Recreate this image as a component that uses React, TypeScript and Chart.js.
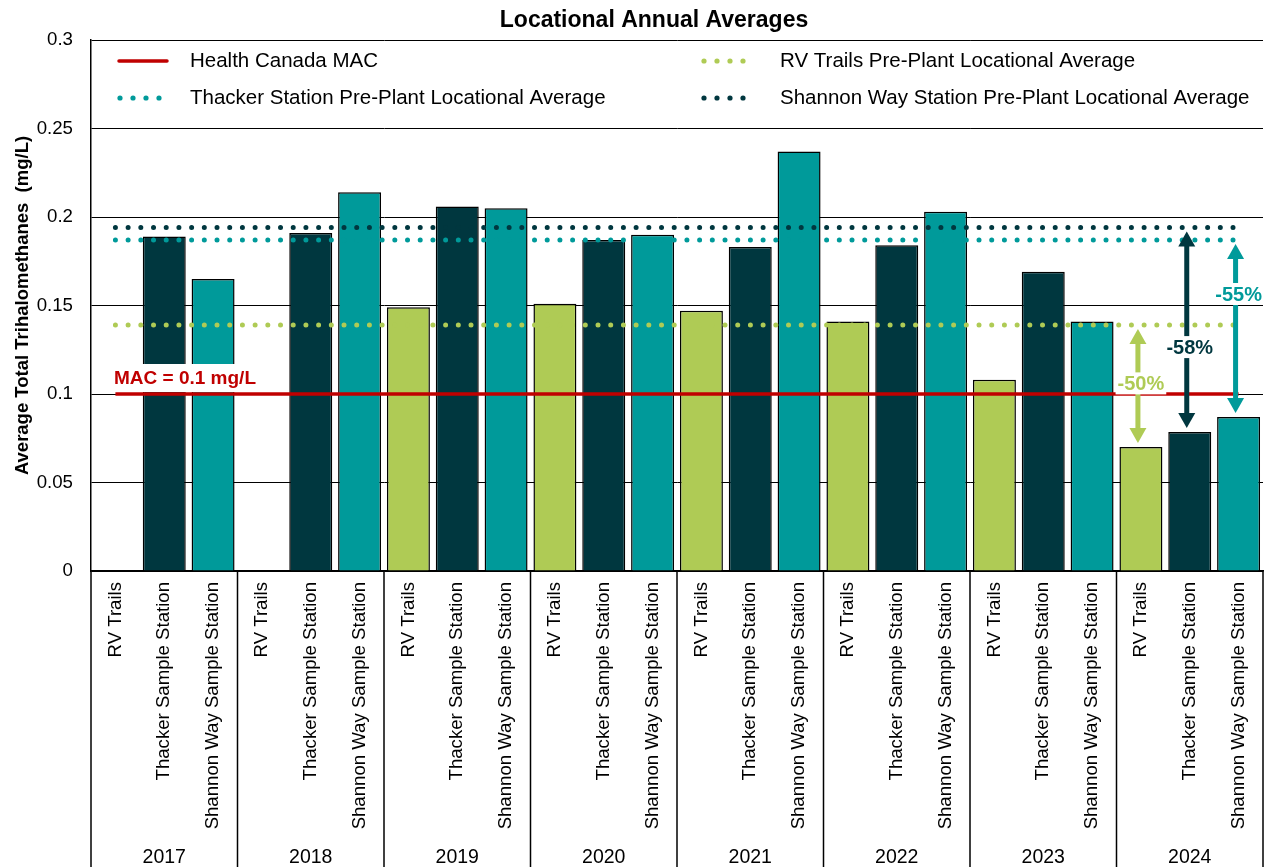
import React, { useEffect, useRef } from 'react';
import { Chart, registerables } from 'chart.js';

Chart.register(...registerables);

// ---------- data ----------
const years = ['2017', '2018', '2019', '2020', '2021', '2022', '2023', '2024'];
const stations = ['RV Trails', 'Thacker Sample Station', 'Shannon Way Sample Station'];
const rvTrails: (number | null)[] = [null, null, 0.149, 0.151, 0.147, 0.141, 0.108, 0.07];
const thacker: (number | null)[] = [0.189, 0.191, 0.206, 0.187, 0.183, 0.184, 0.169, 0.0785];
const shannonWay: (number | null)[] = [0.165, 0.214, 0.205, 0.19, 0.237, 0.203, 0.141, 0.087];
const macLimit = 0.1;
const rvPrePlant = 0.139;
const thackerPrePlant = 0.187;
const shannonPrePlant = 0.194;
const yTickLabels = ['0', '0.05', '0.1', '0.15', '0.2', '0.25', '0.3'];
const reductionLabels = ['-50%', '-58%', '-55%'];
const reductionLabelValues = [0.106, 0.1265, 0.1565];
const legendLabels = [
  'Health Canada MAC',
  'Thacker Station Pre-Plant Locational Average',
  'RV Trails Pre-Plant Locational Average',
  'Shannon Way Station Pre-Plant Locational Average',
];
const titleText = 'Locational Annual Averages';
const yTitleText = 'Average Total Trihalomethanes  (mg/L)';
const macLabelText = 'MAC = 0.1 mg/L';

// ---------- styles ----------
const GREEN = '#AFCB55';
const DARK = '#00373F';
const TEAL = '#009A9A';
const RED = '#C00000';
const FONT = "'Liberation Sans', Arial, sans-serif";
const stationColors = [GREEN, DARK, TEAL];

const categoryLabels = years.flatMap(() => stations);
const barValues = years.flatMap((_, i) => [rvTrails[i], thacker[i], shannonWay[i]]);
const barColors = years.flatMap(() => stationColors);
const flat = (v: number) => categoryLabels.map(() => v);

const arrows = [
  { cat: 21, from: rvPrePlant, to: rvTrails[7] as number, color: GREEN, label: reductionLabels[0], labelAt: reductionLabelValues[0] },
  { cat: 22, from: shannonPrePlant, to: thacker[7] as number, color: DARK, label: reductionLabels[1], labelAt: reductionLabelValues[1] },
  { cat: 23, from: thackerPrePlant, to: shannonWay[7] as number, color: TEAL, label: reductionLabels[2], labelAt: reductionLabelValues[2] },
];

function drawDots(ctx: CanvasRenderingContext2D, x0: number, y: number, color: string) {
  ctx.fillStyle = color;
  for (let k = 0; k < 4; k++) {
    ctx.beginPath();
    ctx.arc(x0 + k * 13, y, 2.6, 0, Math.PI * 2);
    ctx.fill();
  }
}

function drawDoubleArrow(ctx: CanvasRenderingContext2D, x: number, y1: number, y2: number, color: string) {
  const headLen = 15;
  const headHalf = 8.5;
  const shaft = 5;
  ctx.fillStyle = color;
  ctx.fillRect(x - shaft / 2, y1 + headLen - 1, shaft, y2 - y1 - 2 * headLen + 2);
  ctx.beginPath();
  ctx.moveTo(x, y1);
  ctx.lineTo(x - headHalf, y1 + headLen);
  ctx.lineTo(x + headHalf, y1 + headLen);
  ctx.closePath();
  ctx.fill();
  ctx.beginPath();
  ctx.moveTo(x, y2);
  ctx.lineTo(x - headHalf, y2 - headLen);
  ctx.lineTo(x + headHalf, y2 - headLen);
  ctx.closePath();
  ctx.fill();
}

const overlay = {
  id: 'overlay',
  afterDraw(chart: any) {
    const ctx: CanvasRenderingContext2D = chart.ctx;
    const xs = chart.scales.x;
    const ys = chart.scales.y;
    const area = chart.chartArea;
    const H = chart.height;
    ctx.save();

    // MAC label with white box
    ctx.fillStyle = '#fff';
    ctx.fillRect(113, ys.getPixelForValue(macLimit) - 30, 150, 28);
    ctx.fillStyle = RED;
    ctx.font = `bold 19px ${FONT}`;
    ctx.textAlign = 'left';
    ctx.textBaseline = 'alphabetic';
    ctx.fillText(macLabelText, 114, ys.getPixelForValue(macLimit) - 10);

    // reduction arrows
    arrows.forEach((a) => {
      const x = xs.getPixelForValue(a.cat) - 3;
      const y1 = ys.getPixelForValue(a.from) + 4;
      const y2 = ys.getPixelForValue(a.to) - 4;
      drawDoubleArrow(ctx, x, y1, y2, a.color);
      ctx.font = `bold 20px ${FONT}`;
      const tw = ctx.measureText(a.label).width;
      const ly = ys.getPixelForValue(a.labelAt);
      const lx = xs.getPixelForValue(a.cat);
      ctx.fillStyle = '#fff';
      ctx.fillRect(lx - tw / 2 - 2, ly - 11, tw + 4, 22);
      ctx.fillStyle = a.color;
      ctx.textAlign = 'center';
      ctx.textBaseline = 'middle';
      ctx.fillText(a.label, lx, ly + 1);
    });

    // title
    ctx.fillStyle = '#000';
    ctx.font = `bold 23px ${FONT}`;
    ctx.textAlign = 'center';
    ctx.textBaseline = 'alphabetic';
    ctx.fillText(titleText, 654, 27);

    // legend
    ctx.font = `20.5px ${FONT}`;
    ctx.textAlign = 'left';
    ctx.textBaseline = 'middle';
    ctx.strokeStyle = RED;
    ctx.lineWidth = 3.5;
    ctx.lineCap = 'round';
    ctx.beginPath();
    ctx.moveTo(119, 61);
    ctx.lineTo(167, 61);
    ctx.stroke();
    ctx.fillStyle = '#000';
    ctx.fillText(legendLabels[0], 190, 61);
    drawDots(ctx, 120, 98, TEAL);
    ctx.fillStyle = '#000';
    ctx.fillText(legendLabels[1], 190, 98);
    drawDots(ctx, 704, 61, GREEN);
    ctx.fillStyle = '#000';
    ctx.fillText(legendLabels[2], 780, 61);
    drawDots(ctx, 704, 98, DARK);
    ctx.fillStyle = '#000';
    ctx.fillText(legendLabels[3], 780, 98);

    // y-axis title
    ctx.save();
    ctx.translate(28, (area.top + area.bottom) / 2);
    ctx.rotate(-Math.PI / 2);
    ctx.font = `bold 18.5px ${FONT}`;
    ctx.textAlign = 'center';
    ctx.textBaseline = 'alphabetic';
    ctx.fillStyle = '#000';
    ctx.fillText(yTitleText, 0, 0);
    ctx.restore();

    // station labels (rotated)
    ctx.font = `18.6px ${FONT}`;
    ctx.fillStyle = '#000';
    categoryLabels.forEach((lab, i) => {
      const x = xs.getPixelForValue(i);
      ctx.save();
      ctx.translate(x, area.bottom + 11);
      ctx.rotate(-Math.PI / 2);
      ctx.textAlign = 'right';
      ctx.textBaseline = 'middle';
      ctx.fillText(lab, 0, 0);
      ctx.restore();
    });

    // year labels
    ctx.font = `19.5px ${FONT}`;
    ctx.textAlign = 'center';
    ctx.textBaseline = 'alphabetic';
    years.forEach((yr, g) => {
      const x = xs.getPixelForValue(g * 3 + 1);
      ctx.fillText(yr, x, H - 4);
    });

    // group separators in label area
    ctx.strokeStyle = '#000';
    ctx.lineWidth = 1.5;
    ctx.lineCap = 'butt';
    const seps: number[] = [xs.left];
    for (let g = 1; g < years.length; g++) {
      seps.push((xs.getPixelForValue(g * 3 - 1) + xs.getPixelForValue(g * 3)) / 2);
    }
    seps.push(xs.right);
    seps.forEach((sx) => {
      ctx.beginPath();
      ctx.moveTo(sx, area.bottom);
      ctx.lineTo(sx, H);
      ctx.stroke();
    });

    ctx.restore();
  },
};

export default function App() {
  const ref = useRef<HTMLCanvasElement>(null);
  useEffect(() => {
    if (!ref.current) return;
    const dotted = (label: string, value: number, color: string) => ({
      type: 'line' as const,
      label,
      data: flat(value),
      borderColor: color,
      borderWidth: 5,
      borderDash: [0, 12.7],
      borderCapStyle: 'round' as const,
      pointRadius: 0,
      fill: false,
      order: 0,
    });
    const chart = new Chart(ref.current, {
      type: 'bar',
      data: {
        labels: categoryLabels,
        datasets: [
          {
            type: 'bar',
            label: 'Annual Average',
            data: barValues as any,
            backgroundColor: barColors,
            borderColor: '#000',
            borderWidth: 1.5,
            barPercentage: 0.88,
            categoryPercentage: 1,
            order: 1,
          },
          {
            type: 'line',
            label: legendLabels[0],
            data: flat(macLimit),
            borderColor: RED,
            borderWidth: 3.5,
            pointRadius: 0,
            fill: false,
            order: 0,
          },
          dotted(legendLabels[1], thackerPrePlant, TEAL),
          dotted(legendLabels[2], rvPrePlant, GREEN),
          dotted(legendLabels[3], shannonPrePlant, DARK),
        ] as any,
      },
      options: {
        animation: false,
        responsive: false,
        devicePixelRatio: 1,
        layout: { padding: { top: 40, right: 12, left: 0, bottom: 0 } },
        plugins: {
          legend: { display: false },
          title: { display: false },
          tooltip: { enabled: false },
        },
        scales: {
          x: {
            type: 'category',
            offset: true,
            grid: { display: false, drawTicks: false },
            border: { display: true, color: '#000', width: 1.5 },
            ticks: { display: false },
            afterFit: (s: any) => {
              s.height = 296;
            },
          },
          y: {
            min: 0,
            max: 0.3,
            ticks: {
              stepSize: 0.05,
              padding: 18,
              color: '#000',
              font: { family: FONT, size: 18.67 },
              callback: (v: any) => yTickLabels[Math.round(Number(v) / 0.05)],
            },
            grid: { color: '#000', lineWidth: 1, drawTicks: false },
            border: { display: true, color: '#000', width: 1.5 },
            afterFit: (s: any) => {
              s.width = 91;
            },
          },
        },
      } as any,
      plugins: [overlay],
    });
    return () => chart.destroy();
  }, []);
  return (
    <div style={{ position: 'fixed', left: 0, top: 0, width: 1275, height: 867, background: '#fff' }}>
      <canvas ref={ref} width={1275} height={867} style={{ display: 'block', width: 1275, height: 867 }} />
    </div>
  );
}
